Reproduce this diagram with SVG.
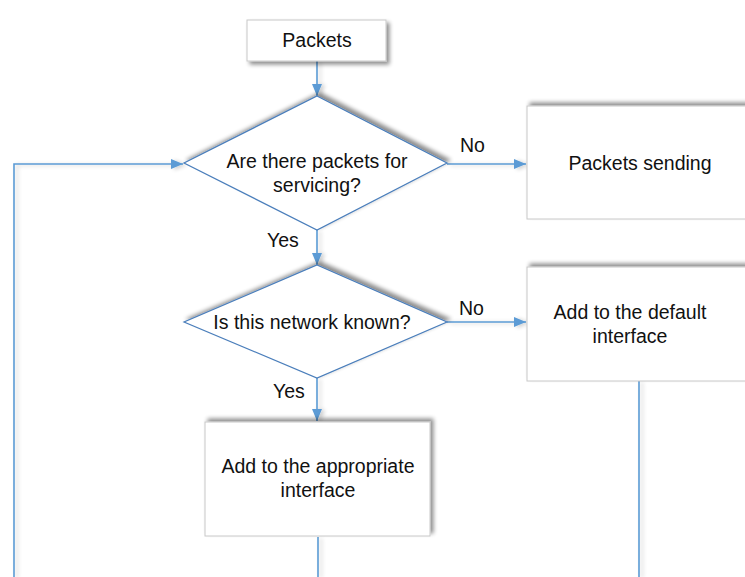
<svg xmlns="http://www.w3.org/2000/svg" width="745" height="577" viewBox="0 0 745 577">
<style>
  .box{fill:#fff;stroke:#c8c8c8;stroke-width:1}
  .dia{fill:#fff;stroke:#4a7ebb;stroke-width:1.2}
  .t{font-family:"Liberation Sans",Arial,sans-serif;font-size:19.5px;fill:#111}
  .c{text-anchor:middle}
  .ln{fill:none;stroke:#5b9bd5;stroke-width:1.6}
</style>
<defs>
  <filter id="sh" x="-20%" y="-30%" width="140%" height="160%">
    <feGaussianBlur in="SourceAlpha" stdDeviation="2"/>
    <feOffset dx="3" dy="-3" result="b"/>
    <feComponentTransfer><feFuncA type="linear" slope="0.45"/></feComponentTransfer>
    <feMerge><feMergeNode/><feMergeNode in="SourceGraphic"/></feMerge>
  </filter>
  <filter id="shd" x="-20%" y="-30%" width="140%" height="160%">
    <feGaussianBlur in="SourceAlpha" stdDeviation="2"/>
    <feOffset dx="3" dy="3" result="b"/>
    <feComponentTransfer><feFuncA type="linear" slope="0.45"/></feComponentTransfer>
    <feMerge><feMergeNode/><feMergeNode in="SourceGraphic"/></feMerge>
  </filter>
  <filter id="shl" x="-50%" y="-10%" width="200%" height="120%">
    <feGaussianBlur in="SourceAlpha" stdDeviation="2"/>
    <feOffset dx="3" dy="1" result="b"/>
    <feComponentTransfer><feFuncA type="linear" slope="0.2"/></feComponentTransfer>
    <feMerge><feMergeNode/><feMergeNode in="SourceGraphic"/></feMerge>
  </filter>
  <marker id="arr" viewBox="0 0 12 10" refX="12" refY="5" markerWidth="12" markerHeight="10" markerUnits="userSpaceOnUse" orient="auto">
    <path d="M0,0 L12,5 L0,10 z" fill="#5b9bd5"/>
  </marker>
</defs>

<g id="connectors" filter="url(#shl)">
  <path class="ln" d="M317,61 V96" marker-end="url(#arr)"/>
  <path class="ln" d="M447,164 H526" marker-end="url(#arr)"/>
  <path class="ln" d="M317,230 V265" marker-end="url(#arr)"/>
  <path class="ln" d="M447,322 H526" marker-end="url(#arr)"/>
  <path class="ln" d="M317,378 V421" marker-end="url(#arr)"/>
  <path class="ln" d="M318,537 V577"/>
  <path class="ln" d="M639,381 V577"/>
  <path class="ln" d="M14,577 V164 H183" marker-end="url(#arr)"/>
</g>
<g id="labels">
  <text class="t" x="460" y="152">No</text>
  <text class="t" x="267" y="247">Yes</text>
  <text class="t" x="459" y="315">No</text>
  <text class="t" x="273" y="398">Yes</text>
</g>

<g id="packets">
  <rect class="box" x="247" y="20" width="139" height="41" filter="url(#shd)"/>
  <text class="t c" x="317" y="47">Packets</text>
</g>

<g id="decision1">
  <polygon class="dia" points="317,96 447,163 317,230 184,163" filter="url(#sh)"/>
  <text class="t c" x="317" y="168">Are there packets for</text>
  <text class="t c" x="317" y="191.5">servicing?</text>
</g>

<g id="sending">
  <rect class="box" x="527" y="106" width="226" height="113" filter="url(#sh)"/>
  <text class="t c" x="640" y="170">Packets sending</text>
</g>

<g id="decision2">
  <polygon class="dia" points="317,265 447,322 317,378 184,322" filter="url(#sh)"/>
  <text class="t c" x="312" y="329">Is this network known?</text>
</g>

<g id="default">
  <rect class="box" x="527" y="267" width="226" height="114" filter="url(#sh)"/>
  <text class="t c" x="630" y="319">Add to the default</text>
  <text class="t c" x="630" y="343">interface</text>
</g>

<g id="appropriate">
  <rect class="box" x="205" y="422" width="225" height="114" filter="url(#sh)"/>
  <text class="t c" x="318" y="473">Add to the appropriate</text>
  <text class="t c" x="318" y="497">interface</text>
</g>
</svg>
